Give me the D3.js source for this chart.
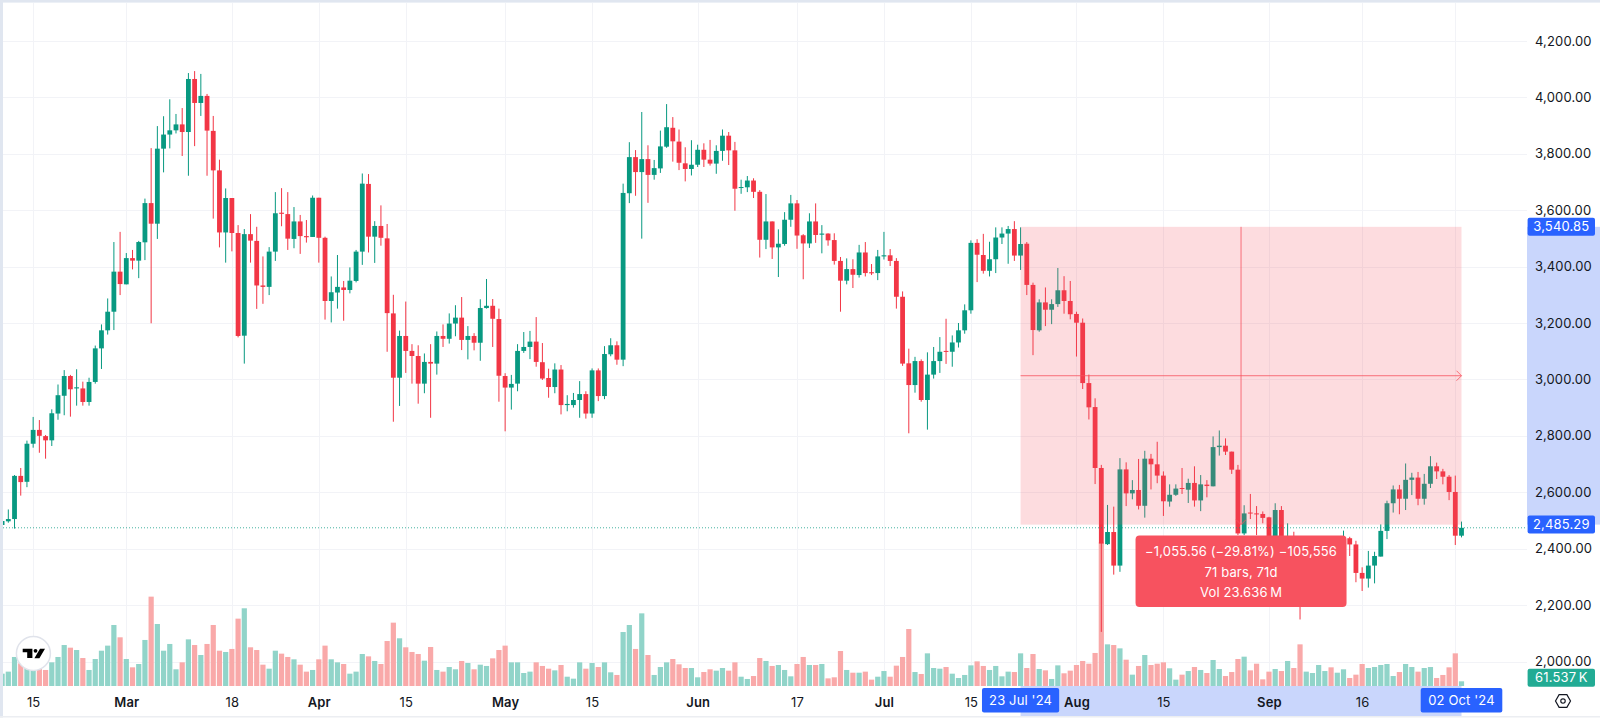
<!DOCTYPE html>
<html>
<head>
<meta charset="utf-8">
<script src="https://cdn.jsdelivr.net/npm/d3@7"></script>
<style>
html, body { margin: 0; padding: 0; background: #fff; overflow: hidden; }
svg { display: block; }
text { font-family: Inter, "Noto Sans", sans-serif; font-size: 13px; fill: #131722; letter-spacing: 0.15px; }
</style>
</head>
<body>
<svg id="chart" width="1600" height="721"></svg>
<script>
// daily bars, 10 Feb 2024 .. 02 Oct 2024
const firstDay = '2024-02-10';
const lastDay = '2024-10-02';

const opens = [
2484,2497,2505,2658,2637,2772,2821,2799,2784,2879,
2942,3012,2968,2968,2920,2991,3110,3174,3240,3382,
3337,3430,3421,3486,3625,3552,3818,3868,3883,3904,
3877,4065,3980,4005,3881,3741,3521,3643,3519,3155,
3515,3491,3333,3328,3453,3591,3586,3498,3560,3508,
3505,3644,3502,3278,3308,3326,3317,3349,3453,3693,
3506,3544,3500,3234,3006,3154,3101,3083,2985,3062,
3056,3154,3144,3198,3219,3140,3154,3130,3253,3261,
3214,3012,2971,2985,3101,3115,3134,3061,3005,2973,
3035,2909,2909,2927,2948,2879,3032,2941,3089,3121,
3070,3660,3788,3735,3781,3725,3748,3825,3892,3843,
3766,3746,3761,3814,3779,3765,3810,3864,3812,3679,
3681,3705,3665,3495,3560,3468,3480,3566,3624,3511,
3482,3560,3513,3517,3494,3420,3350,3391,3370,3450,
3380,3377,3436,3440,3420,3293,3057,2980,3065,2927,
3017,3065,3101,3098,3131,3174,3245,3484,3441,3385,
3426,3503,3517,3533,3439,3481,3335,3174,3273,3247,
3267,3316,3278,3232,3201,2987,2902,2686,2416,2459,
2340,2681,2596,2608,2552,2719,2699,2659,2567,2591,
2615,2609,2633,2571,2627,2621,2760,2765,2744,2680,
2454,2528,2525,2523,2511,2389,2537,2380,2431,2407,
2360,2380,2395,2405,2415,2400,2420,2437,2415,2314,
2294,2340,2372,2463,2561,2610,2577,2644,2652,2577,
2630,2692,2674,2655,2601,2446];

const highs = [
2508,2539,2661,2686,2783,2867,2856,2803,2894,2982,
3033,3016,3036,2992,3006,3120,3195,3287,3487,3523,
3448,3459,3491,3641,3820,3898,3933,3993,3941,3962,
4086,4093,4083,4012,3934,3779,3677,3643,3547,3533,
3586,3541,3436,3469,3664,3678,3664,3611,3583,3565,
3652,3644,3506,3365,3441,3349,3397,3459,3730,3728,
3561,3617,3551,3300,3173,3276,3125,3121,3092,3125,
3170,3195,3234,3263,3292,3189,3164,3284,3356,3285,
3251,3022,3016,3125,3168,3172,3221,3129,3038,3057,
3051,2944,2952,2994,2958,3039,3039,3118,3146,3135,
3694,3841,3813,3948,3830,3778,3882,3976,3930,3886,
3823,3848,3832,3837,3849,3830,3886,3877,3842,3708,
3721,3713,3671,3657,3560,3532,3593,3654,3636,3515,
3589,3624,3547,3518,3518,3434,3429,3426,3477,3487,
3409,3459,3523,3462,3430,3312,3109,3080,3071,3096,
3115,3150,3215,3156,3200,3266,3493,3497,3516,3488,
3539,3539,3544,3561,3539,3487,3343,3284,3326,3284,
3395,3366,3349,3240,3216,3017,2933,2697,2555,2549,
2721,2706,2643,2718,2747,2736,2779,2674,2628,2628,
2686,2648,2692,2661,2643,2798,2819,2791,2744,2697,
2554,2594,2551,2532,2513,2561,2551,2490,2460,2440,
2410,2420,2425,2430,2432,2440,2464,2442,2428,2334,
2392,2389,2486,2570,2624,2626,2702,2669,2672,2665,
2728,2705,2683,2661,2659,2496];

const lows = [
2480,2492,2471,2588,2618,2758,2740,2719,2764,2857,
2873,2868,2907,2907,2907,2985,3037,3159,3175,3299,
3337,3390,3359,3423,3199,3498,3734,3819,3872,3792,
3722,3827,3934,3722,3570,3468,3414,3454,3149,3056,
3414,3250,3268,3299,3420,3543,3459,3465,3445,3485,
3505,3414,3212,3202,3251,3208,3305,3344,3406,3450,
3413,3474,3098,2850,2906,3023,2985,2914,2951,2864,
3017,3115,3127,3153,3104,3071,3103,3066,3251,3115,
2921,2816,2893,2958,3094,3072,3045,2998,2935,2951,
2876,2887,2900,2864,2861,2864,2923,2930,3082,3052,
3047,3625,3651,3499,3626,3708,3732,3821,3772,3742,
3702,3723,3753,3753,3758,3729,3775,3760,3598,3658,
3664,3643,3432,3462,3427,3363,3474,3541,3463,3355,
3466,3484,3447,3474,3407,3240,3337,3324,3361,3365,
3370,3352,3425,3402,3251,3048,2809,2953,2921,2822,
3003,3023,3055,3045,3113,3162,3233,3345,3375,3365,
3377,3480,3410,3420,3388,3299,3086,3169,3189,3196,
3257,3233,3213,3081,2966,2858,2629,2105,2413,2308,
2318,2551,2575,2539,2510,2610,2632,2516,2549,2587,
2594,2562,2549,2533,2582,2621,2730,2732,2665,2448,
2448,2505,2448,2490,2383,2372,2360,2350,2370,2149,
2340,2365,2380,2390,2385,2390,2410,2374,2281,2250,
2262,2277,2372,2434,2528,2522,2537,2590,2554,2556,
2615,2647,2628,2572,2413,2440];

const closes = [
2498,2505,2658,2636,2772,2821,2800,2784,2880,2944,
3012,2965,2972,2920,2991,3110,3174,3240,3382,3338,
3430,3421,3487,3625,3552,3818,3868,3883,3904,3877,
4065,3980,4005,3882,3741,3521,3643,3519,3154,3515,
3492,3333,3328,3453,3589,3587,3499,3560,3508,3504,
3644,3502,3278,3309,3328,3317,3350,3453,3694,3506,
3544,3502,3235,3006,3154,3101,3083,2985,3062,3056,
3154,3144,3198,3219,3140,3154,3130,3253,3261,3215,
3013,2971,2984,3101,3115,3134,3062,3003,2973,3035,
2909,2913,2927,2948,2879,3032,2941,3090,3121,3070,
3661,3788,3735,3781,3725,3749,3826,3894,3844,3768,
3746,3761,3814,3779,3765,3810,3864,3812,3676,3682,
3705,3665,3495,3560,3468,3481,3566,3624,3510,3482,
3560,3512,3517,3493,3420,3350,3391,3371,3450,3377,
3376,3436,3440,3420,3293,3056,2980,3065,2927,3017,
3065,3098,3098,3131,3174,3245,3484,3442,3385,3426,
3503,3517,3533,3439,3480,3335,3175,3273,3247,3267,
3316,3278,3231,3201,2987,2901,2686,2418,2459,2340,
2681,2596,2608,2552,2719,2699,2659,2568,2591,2613,
2613,2633,2571,2628,2622,2760,2765,2744,2680,2454,
2525,2525,2523,2509,2407,2537,2383,2430,2407,2360,
2380,2395,2405,2415,2400,2420,2437,2415,2314,2294,
2340,2374,2463,2561,2610,2577,2644,2652,2577,2630,
2692,2674,2655,2601,2446,2474];

// volume in thousands
const volumes = [
163,190,384,300,335,309,265,212,313,384,
542,507,476,370,212,357,467,534,807,644,
357,247,291,609,1182,820,467,556,221,313,
617,542,410,556,807,467,450,490,891,1028,
512,476,282,229,467,428,384,353,282,190,
212,353,534,353,313,291,163,190,423,392,
331,291,595,838,631,512,450,423,335,516,
212,190,251,221,331,304,221,282,265,366,
476,534,313,313,172,190,313,265,229,207,
278,123,97,313,229,304,251,313,181,146,
714,807,490,961,410,146,251,313,357,287,
238,238,115,185,221,203,238,203,313,123,
93,132,370,331,265,278,212,128,291,384,
278,278,291,101,115,463,212,176,176,190,
84,123,198,123,269,384,754,185,159,432,
238,229,251,163,106,146,273,326,265,212,
265,128,190,185,432,238,423,225,207,93,
273,168,203,278,331,295,437,1900,551,542,
498,348,150,265,410,278,295,313,234,84,
150,198,251,212,172,344,225,132,185,357,
388,207,295,88,190,225,198,331,238,551,
190,172,278,198,247,176,221,106,150,291,
238,251,278,291,132,185,291,251,190,238,
251,106,146,247,432,62];

const priceTicks = d3.range(2000, 4201, 200);
const timeTickDays = ['2024-02-15','2024-03-01','2024-03-18','2024-04-01','2024-04-15','2024-05-01','2024-05-15','2024-06-01','2024-06-17','2024-07-01','2024-07-15','2024-08-01','2024-08-15','2024-09-01','2024-09-16','2024-10-01'];
const timeTickLabels = ['15','Mar','18','Apr','15','May','15','Jun','17','Jul','15','Aug','15','Sep','16',''];
const monthLabels = ['Mar','Apr','May','Jun','Jul','Aug','Sep'];

// long position tool
const measureStartDay = '2024-07-23';
const measureEndDay = '2024-10-02';
const measureTop = 3540.85;
const measureBottom = 2485.29;
const measureLines = ['\u22121,055.56 (\u221229.81%) \u2212105,556', '71 bars, 71d', 'Vol 23.636\u2009M'];
const lastVolumeLabel = '61.537\u2009K';

const UP = '#089981', DOWN = '#f23645';
const RED = '#f7525f', BLUE = '#2962ff', BAND = '#c9d6fc', GRID = '#f2f3f7';
const VOL_UP = '#91d4c9', VOL_DOWN = '#f9a9a9';

const parseDay = d3.utcParse('%Y-%m-%d');
const fmtDay = d3.utcFormat("%d %b '%y");
const fmtPrice = d3.format(',.2f');

const days = d3.utcDay.range(parseDay(firstDay), d3.utcDay.offset(parseDay(lastDay), 1));
const n = days.length;
const bars = days.map((day, i) => ({ day, o: opens[i], h: highs[i], l: lows[i], c: closes[i], v: volumes[i] }));

const paneLeft = 3, paneRight = 1527, paneTop = 3, paneBottom = 686, axisBottom = 716;

const x = d3.scaleUtc().domain([parseDay(firstDay), parseDay(lastDay)]).range([2.1, 1461.5]);
const y = d3.scaleLinear().domain([2000, 4200]).range([661.5, 40.9]);
const yVol = d3.scaleLinear().domain([0, 2000]).range([paneBottom, paneBottom - 151.2]);

const svg = d3.select('#chart');
const defs = svg.append('defs');
defs.append('clipPath').attr('id', 'pane').append('rect')
    .attr('x', paneLeft).attr('y', paneTop)
    .attr('width', paneRight - paneLeft).attr('height', paneBottom - paneTop);

// frame
svg.append('rect').attr('width', 1600).attr('height', 721).attr('fill', '#fff');
svg.append('rect').attr('width', 1600).attr('height', 2.6).attr('fill', '#e0e6f0');
svg.append('rect').attr('width', 3).attr('height', axisBottom + 1.5).attr('fill', '#e0e6f0');
svg.append('rect').attr('y', axisBottom).attr('width', 1600).attr('height', 1.5).attr('fill', '#eceef2');

// grid
const grid = svg.append('g').attr('stroke', GRID).attr('stroke-width', 1).attr('shape-rendering', 'crispEdges');
grid.selectAll('.h').data(priceTicks).join('line')
    .attr('x1', paneLeft).attr('x2', paneRight)
    .attr('y1', d => Math.round(y(d)) + 0.5).attr('y2', d => Math.round(y(d)) + 0.5);
grid.selectAll('.v').data(timeTickDays).join('line')
    .attr('x1', d => Math.round(x(parseDay(d))) + 0.5).attr('x2', d => Math.round(x(parseDay(d))) + 0.5)
    .attr('y1', paneTop).attr('y2', paneBottom);

const pane = svg.append('g').attr('clip-path', 'url(#pane)');

// volume
pane.append('g').selectAll('rect').data(bars).join('rect')
    .attr('x', d => x(d.day) - 2.6).attr('width', 5.2)
    .attr('y', d => yVol(d.v)).attr('height', d => yVol(0) - yVol(d.v))
    .attr('fill', d => d.c >= d.o ? VOL_UP : VOL_DOWN);

// candles
const candles = pane.append('g').selectAll('g').data(bars).join('g')
    .attr('fill', d => d.c >= d.o ? UP : DOWN);
candles.append('rect').attr('class', 'wick')
    .attr('x', d => x(d.day) - 0.5).attr('width', 1)
    .attr('y', d => y(d.h)).attr('height', d => y(d.l) - y(d.h));
candles.append('rect').attr('class', 'body')
    .attr('x', d => x(d.day) - 2.4).attr('width', 4.8)
    .attr('y', d => y(Math.max(d.o, d.c)))
    .attr('height', d => Math.max(1, Math.abs(y(d.o) - y(d.c))));

// last price line
pane.append('line')
    .attr('x1', paneLeft).attr('x2', paneRight)
    .attr('y1', y(closes[n - 1])).attr('y2', y(closes[n - 1]))
    .attr('stroke', UP).attr('stroke-opacity', 0.75).attr('stroke-width', 1).attr('stroke-dasharray', '1 2');

// measure overlay
const mx0 = x(parseDay(measureStartDay)), mx1 = x(parseDay(measureEndDay));
const my0 = y(measureTop), my1 = y(measureBottom);
const mxMid = (mx0 + mx1) / 2, myMid = (my0 + my1) / 2;
const measure = svg.append('g');
measure.append('rect').attr('x', mx0).attr('y', my0)
    .attr('width', mx1 - mx0).attr('height', my1 - my0)
    .attr('fill', RED).attr('fill-opacity', 0.2);
const arrowPath = d3.path();
arrowPath.moveTo(mx0, myMid); arrowPath.lineTo(mx1, myMid);
arrowPath.moveTo(mx1 - 5, myMid - 5); arrowPath.lineTo(mx1, myMid); arrowPath.lineTo(mx1 - 5, myMid + 5);
arrowPath.moveTo(mxMid, my0); arrowPath.lineTo(mxMid, my1);
arrowPath.moveTo(mxMid - 5, my1 - 5); arrowPath.lineTo(mxMid, my1); arrowPath.lineTo(mxMid + 5, my1 - 5);
measure.append('path').attr('d', arrowPath.toString())
    .attr('fill', 'none').attr('stroke', RED).attr('stroke-opacity', 0.8).attr('stroke-width', 1);

// measure tooltip
const tipW = 211, tipH = 71.6, tipTop = my1 + 10.9;
measure.append('rect').attr('x', mxMid - tipW / 2).attr('y', tipTop)
    .attr('width', tipW).attr('height', tipH).attr('rx', 4).attr('fill', RED);
measure.selectAll('text').data(measureLines).join('text')
    .attr('x', mxMid).attr('y', (d, i) => tipTop + 16 + i * 20.5)
    .attr('dy', '0.35em').attr('text-anchor', 'middle')
    .style('fill', '#fff').text(d => d);

// logo
const logo = svg.append('g').attr('transform', 'translate(33.4,653.5)');
logo.append('circle').attr('r', 17).attr('fill', '#fff').attr('stroke', '#e0e3eb').attr('stroke-width', 1.5);
const logoMark = logo.append('g').attr('transform', 'translate(0,1.6)').attr('fill', '#000');
logoMark.append('path').attr('d', 'M-10.7-6.3H-1V3H-6.2V-2.9H-10.7ZM6.6-6.3H11.6L6 3.2H1Z');
logoMark.append('circle').attr('cx', 2.1).attr('cy', -4.3).attr('r', 1.9);

// price axis band and ticks
svg.append('rect').attr('x', paneRight).attr('y', my0)
    .attr('width', 1600 - paneRight).attr('height', my1 - my0).attr('fill', BAND);
const yAxis = d3.axisRight(y).tickValues(priceTicks).tickSize(0).tickPadding(0).tickFormat(fmtPrice);
const yAxisG = svg.append('g').attr('transform', 'translate(1535,0)').call(yAxis);
yAxisG.select('.domain').remove();
yAxisG.selectAll('text').style('font-family', 'Inter, sans-serif').style('font-size', '13px').style('fill', '#131722');

function priceTag(cy, label, fill) {
    svg.append('rect').attr('x', 1527.6).attr('y', cy - 9).attr('width', 67.4).attr('height', 18)
        .attr('rx', 2).attr('fill', fill);
    svg.append('text').attr('x', 1561.3).attr('y', cy).attr('dy', '0.35em')
        .attr('text-anchor', 'middle').style('fill', '#fff').text(label);
}
priceTag(my0, fmtPrice(measureTop), BLUE);
priceTag(my1, fmtPrice(measureBottom), BLUE);
priceTag(paneBottom - 8.2, lastVolumeLabel, '#22ab94');

// time axis band and ticks
svg.append('rect').attr('x', mx0).attr('y', paneBottom)
    .attr('width', mx1 - mx0).attr('height', axisBottom - paneBottom).attr('fill', BAND);
const xAxis = d3.axisBottom(x).tickValues(timeTickDays.map(parseDay)).tickSize(0).tickPadding(0)
    .tickFormat((d, i) => timeTickLabels[i]);
const xAxisG = svg.append('g').attr('transform', 'translate(0,697.5)').call(xAxis);
xAxisG.select('.domain').remove();
xAxisG.selectAll('text')
    .style('font-family', 'Inter, sans-serif').style('font-size', '13px').style('fill', '#131722')
    .style('font-weight', (d, i) => monthLabels.includes(timeTickLabels[i]) ? 600 : 400);

function timeTag(day) {
    const cx = x(parseDay(day));
    const label = fmtDay(parseDay(day));
    const w = day === measureStartDay ? 77.2 : 81.6;
    svg.append('rect').attr('x', cx - w / 2).attr('y', 688).attr('width', w).attr('height', 24.5)
        .attr('rx', 2).attr('fill', BLUE);
    svg.append('text').attr('x', cx).attr('y', 700.3).attr('dy', '0.35em')
        .attr('text-anchor', 'middle').style('fill', '#fff').text(label);
}
timeTag(measureStartDay);
timeTag(measureEndDay);

// settings icon
const gear = svg.append('g').attr('transform', 'translate(1563,701)')
    .attr('fill', 'none').attr('stroke', '#131722').attr('stroke-width', 1.2);
gear.append('path').attr('d', 'M-7.5 0L-3.9-6.3H3.9L7.5 0L3.9 6.3H-3.9Z');
gear.append('circle').attr('r', 2.2);
</script>
</body>
</html>
